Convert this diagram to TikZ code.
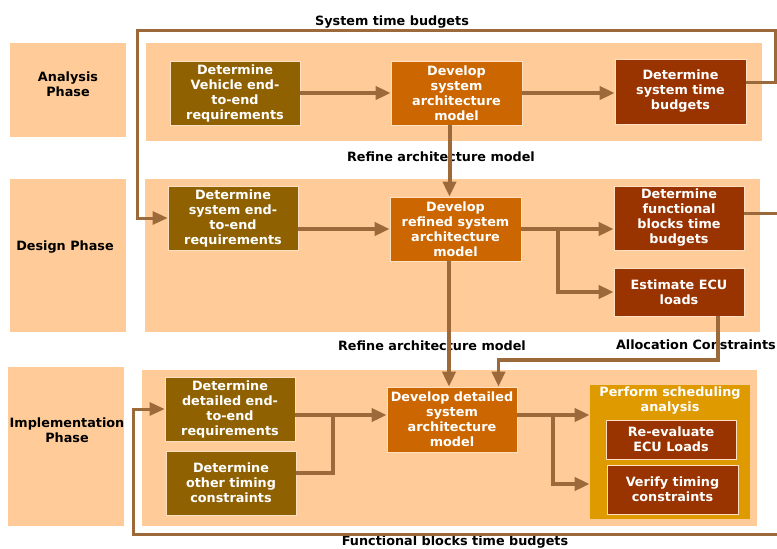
\documentclass[tikz,border=0pt]{standalone}
\usepackage{fontspec}
\setmainfont{DejaVu Sans}
\usetikzlibrary{arrows.meta}
\definecolor{peach}{HTML}{FFCC99}
\definecolor{gold}{HTML}{906100}
\definecolor{orng}{HTML}{CC6600}
\definecolor{rust}{HTML}{993300}
\definecolor{amber}{HTML}{DF9A00}
\definecolor{conn}{HTML}{9C6A3A}
\tikzset{
  bg/.style={fill=peach, draw=none, inner sep=0},
  box/.style={draw=peach!60!white, line width=0.7pt, text=white, align=center, inner sep=0,
    minimum width=130pt, minimum height=64pt},
  cn/.style={draw=conn, line width=4pt},
  fb/.style={draw=conn, line width=3pt},
  tip/.style={-{Triangle[length=15pt,width=13pt]}},
  arr/.style={cn, tip},
  lbl/.style={text=black, inner sep=0, anchor=base},
}
\begin{document}
\begin{tikzpicture}[x=1pt,y=-1pt, font=\bfseries\fontsize{12.8}{15}\selectfont]
\useasboundingbox (0,0) rectangle (777,549);
% phase labels
\node[bg, minimum width=116pt, minimum height=94pt] (phA) at (68,90) {};
\node[bg, minimum width=116pt, minimum height=153pt] (phD) at (68,255.5) {};
\node[bg, minimum width=116pt, minimum height=159pt] (phI) at (66,446.5) {};
\node[align=center, inner sep=0] (tA) at (68,84.5) {Analysis\\Phase};
\node[inner sep=0] (tD) at (65,247) {Design Phase};
\node[align=center, inner sep=0] (tI) at (67,430) {Implementation\\Phase};
% lanes
\node[bg, minimum width=616pt, minimum height=98pt] (laneA) at (454,92) {};
\node[bg, minimum width=615pt, minimum height=153pt] (laneD) at (452.5,255.5) {};
\node[bg, minimum width=615pt, minimum height=156pt] (laneI) at (449.5,448) {};
% analysis
\node[box, fill=gold] (A1) at (235,93) {Determine\\Vehicle end-\\to-end\\requirements};
\node[box, fill=orng, minimum width=131pt] (A2) at (456.5,93) {Develop\\system\\architecture\\model};
\node[box, fill=rust, minimum width=131pt, minimum height=65pt] (A3) at (680.5,91.5) {Determine\\system time\\budgets};
% design
\node[box, fill=gold] (D1) at (233,218) {Determine\\system end-\\to-end\\requirements};
\node[box, fill=orng, minimum width=131pt] (D2) at (455.5,229) {Develop\\refined system\\architecture\\model};
\node[box, fill=rust] (D3) at (679,218) {Determine\\functional\\blocks time\\budgets};
\node[box, fill=rust, minimum height=48pt] (D4) at (679,292) {Estimate ECU\\loads};
% implementation
\node[box, fill=gold] (I1) at (230,409) {Determine\\detailed end-\\to-end\\requirements};
\node[box, fill=gold] (I2) at (231,483) {Determine\\other timing\\constraints};
\node[box, fill=orng, minimum height=65pt] (I3) at (452,419.5) {Develop detailed\\system\\architecture\\model};
\node[box, fill=amber, draw=none, minimum width=160pt, minimum height=134pt] (S) at (670,452) {};
\node[text=white, align=center, inner sep=0] (St) at (670,401) {Perform scheduling\\analysis};
\node[box, fill=rust, minimum height=39pt] (R1) at (671,439.5) {Re-evaluate\\ECU Loads};
\node[box, fill=rust, minimum width=131pt, minimum height=49pt] (R2) at (672.5,489.5) {Verify timing\\constraints};
% labels
\node[lbl] (Lst) at (392,25) {System time budgets};
\node[lbl] (Lr1) at (441,161) {Refine architecture model};
\node[lbl] (Lr2) at (432,350) {Refine architecture model};
\node[lbl, anchor=base east] (Lac) at (776,349) {Allocation Constraints};
\node[lbl] (Lfb) at (455,545.5) {Functional blocks time budgets};
% coordinates
\coordinate (tr) at (775,30);
\coordinate (tl) at (137,30);
\coordinate (d3out) at (790,213);
\coordinate (bD) at (558,229);
\coordinate (ac) at (600,360);
\coordinate (j1) at (333,415);
\coordinate (j2) at (333,473);
\coordinate (k1) at (553,415);
\coordinate (k2) at (553,484);
\coordinate (br) at (790,534.5);
\coordinate (bl) at (133,534.5);
% connectors
\draw[arr] (A1.east) -- (A2.west);
\draw[arr] (A2.east) -- (A2.east -| A3.west);
\draw[fb, tip] ([yshift=9pt]A3.east) -| (tr) -- (tl) |- (D1.west);
\draw[arr] ([xshift=-7pt]A2.south) -- ([xshift=-7pt]A2.south |- D2.north);
\draw[arr] (D1.east |- D2.west) -- (D2.west);
\draw[arr] (D2.east) -- (D2.east -| D3.west);
\draw[arr] (bD) |- (D4.west);
\draw[fb] ([yshift=5pt]D3.east) -- (d3out);
\draw[fb, line width=3.5pt, tip] ([xshift=39pt]D4.south) |- (ac) -| ([xshift=46.5pt]I3.north);
\draw[arr] ([xshift=-6.5pt]D2.south) -- ([xshift=-6.5pt]D2.south |- I3.north);
\draw[arr] (I1.east |- j1) -- (j1 -| I3.west);
\draw[cn] (I2.east |- j2) -- (j2) -- (j1);
\draw[arr] (I3.east |- k1) -- (k1 -| S.west);
\draw[arr] (k1) |- (k2 -| S.west);
\draw[fb, tip] (br) -- (bl) |- (I1.west);
\end{tikzpicture}
\end{document}
